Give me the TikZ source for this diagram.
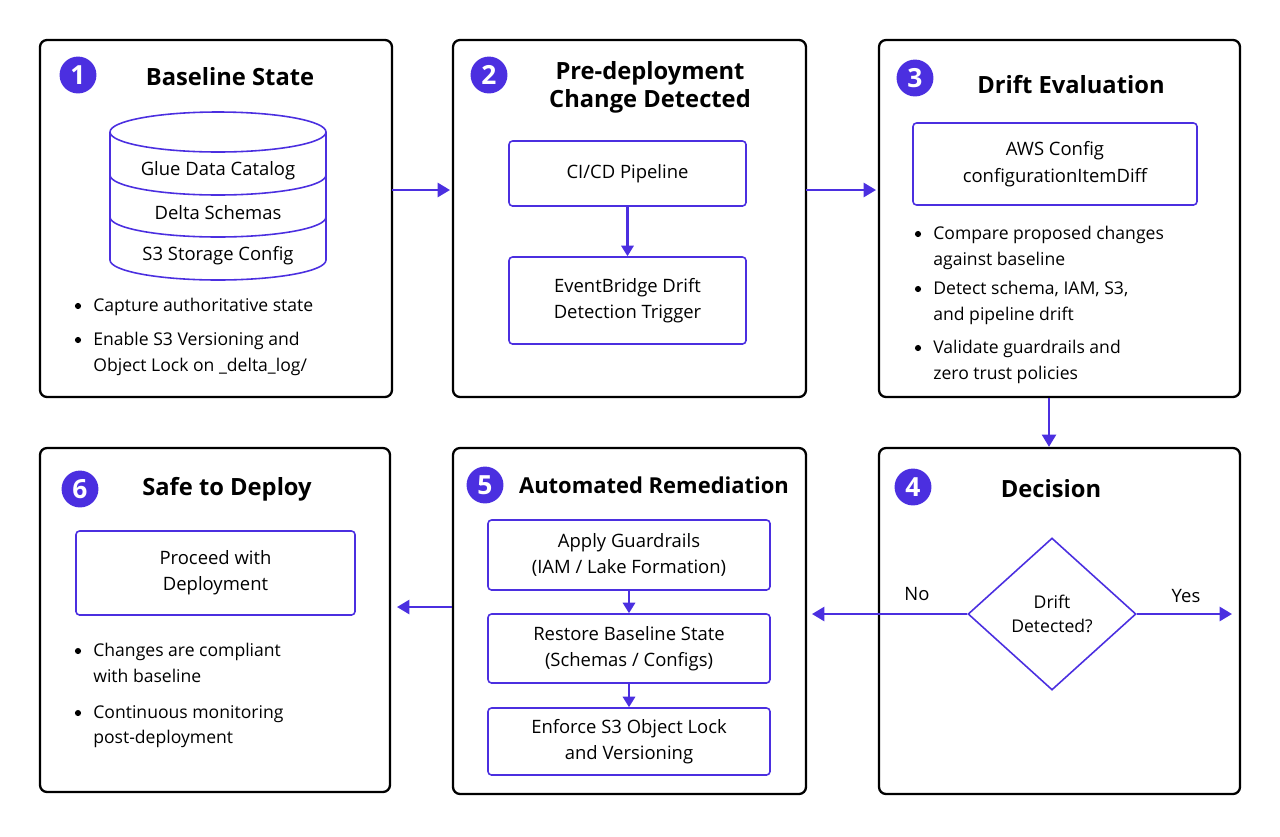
\documentclass[tikz,border=0pt]{standalone}
\usepackage{fontspec}
\setmainfont{Open Sans}
\usetikzlibrary{positioning,shapes.geometric,arrows.meta}
\definecolor{accent}{HTML}{4B2FE0}
\tikzset{
  panel/.style={draw,line width=1.3pt,rounded corners=4pt,inner sep=0pt},
  num/.style={circle,fill=accent,text=white,minimum size=21pt,inner sep=0pt,font=\fontsize{15}{15}\selectfont\bfseries},
  ttl/.style={font=\fontsize{13.5}{16}\selectfont\bfseries,align=center},
  box/.style={draw=accent,line width=0.9pt,rounded corners=2pt,align=center,font=\fontsize{10.5}{15}\selectfont},
  txt/.style={anchor=north west,align=left,font=\fontsize{10}{14.5}\selectfont,inner sep=0pt},
  dot/.style={circle,fill=black,inner sep=0pt,minimum size=3.5pt},
  flow/.style={draw=accent,line width=1.3pt,-{Triangle[length=7pt,width=8pt]}},
  small/.style={draw=accent,line width=1.3pt,-{Triangle[length=6pt,width=7pt]}}
}
\newcommand{\bul}[3]{\node[dot] at (78+#1,#2) {}; \node[txt] at (93+#1,#2-8) {#3};}
\begin{document}
\begin{tikzpicture}[x=0.02cm,y=-0.02cm]
  \useasboundingbox (0,0) rectangle (1280,836);
  % Panels.
  \node[panel,minimum width=352*0.02cm,minimum height=357*0.02cm] (p1) at (216,218.5) {};
  \node[panel,minimum width=353*0.02cm,minimum height=357*0.02cm] (p2) at (629.5,218.5) {};
  \node[panel,minimum width=361*0.02cm,minimum height=357*0.02cm] (p3) at (1059.5,218.5) {};
  \node[panel,minimum width=361*0.02cm,minimum height=346*0.02cm] (p4) at (1059.5,621) {};
  \node[panel,minimum width=353*0.02cm,minimum height=346*0.02cm] (p5) at (629.5,621) {};
  \node[panel,minimum width=350*0.02cm,minimum height=344*0.02cm] (p6) at (215,620) {};
  % Numbers and titles.
  \node[num] (n1) at (78,75) {1};
  \node[num] (n2) at (489,75) {2};
  \node[num] (n3) at (915,78) {3};
  \node[num] (n4) at (913,487) {4};
  \node[num] (n5) at (485,485) {5};
  \node[num] (n6) at (80,489) {6};
  \node[ttl] (t1) at (230,77) {Baseline State};
  \node[ttl] (t2) at (650,87) {Pre-deployment\\Change Detected};
  \node[ttl] (t3) at (1071,85) {Drift Evaluation};
  \node[ttl] (t4) at (1051,489) {Decision};
  \node[ttl,font=\fontsize{12.5}{15}\selectfont\bfseries] (t5) at (654,485) {Automated Remediation};
  \node[ttl] (t6) at (227,489) {Safe to Deploy};
  % Baseline store.
  \draw[accent,line width=0.9pt] (218,132) ellipse (108 and 20);
  \draw[accent,line width=0.9pt] (110,132) -- (110,260) arc[start angle=180,end angle=360,x radius=108,y radius=-20] -- (326,132);
  \draw[accent,line width=0.9pt] (110,175) arc[start angle=180,end angle=360,x radius=108,y radius=-20];
  \draw[accent,line width=0.9pt] (110,217) arc[start angle=180,end angle=360,x radius=108,y radius=-20];
  \node[font=\fontsize{10.5}{12}\selectfont] (c1) at (218,171) {Glue Data Catalog};
  \node[font=\fontsize{10.5}{12}\selectfont] (c2) at (218,213) {Delta Schemas};
  \node[font=\fontsize{10.5}{12}\selectfont] (c3) at (218,256) {S3 Storage Config};
  \bul{0}{306}{Capture authoritative state}
  \bul{0}{340}{Enable S3 Versioning and\\Object Lock on \_delta\_log/}
  % Change detection.
  \node[box,minimum width=237*0.02cm,minimum height=65*0.02cm] (ci) at (627.5,173.5) {CI/CD Pipeline};
  \node[box,minimum width=237*0.02cm,minimum height=87*0.02cm] (eb) at (627.5,300.5) {EventBridge Drift\\Detection Trigger};
  \draw[small] (ci) -- (eb);
  % Evaluation.
  \node[box,minimum width=284*0.02cm,minimum height=82*0.02cm] (cfg) at (1055,164) {AWS Config\\configurationItemDiff};
  \bul{840}{234}{Compare proposed changes\\against baseline}
  \bul{840}{289}{Detect schema, IAM, S3,\\and pipeline drift}
  \bul{840}{348}{Validate guardrails and\\zero trust policies}
  % Decision.
  \node[diamond,draw=accent,line width=0.9pt,minimum width=168*0.02cm,minimum height=152*0.02cm,inner sep=0pt,align=center,font=\fontsize{10}{14}\selectfont] (dd) at (1052,614) {Drift\\Detected?};
  \coordinate (yes) at (1232,614);
  \coordinate (no) at (812,614);
  \draw[flow] (dd.east) -- (yes);
  \draw[flow] (dd.west) -- (no);
  \node[font=\fontsize{10.5}{12}\selectfont] (lno) at (917,594) {No};
  \node[font=\fontsize{10.5}{12}\selectfont] (lyes) at (1186,596) {Yes};
  % Remediation.
  \node[box,minimum width=282*0.02cm,minimum height=70*0.02cm] (r1) at (629,555) {Apply Guardrails\\(IAM / Lake Formation)};
  \node[box,minimum width=282*0.02cm,minimum height=69*0.02cm] (r2) at (629,648.5) {Restore Baseline State\\(Schemas / Configs)};
  \node[box,minimum width=282*0.02cm,minimum height=67*0.02cm] (r3) at (629,741.5) {Enforce S3 Object Lock\\and Versioning};
  \draw[small] (r1) -- (r2);
  \draw[small] (r2) -- (r3);
  % Deploy.
  \node[box,minimum width=279*0.02cm,minimum height=84*0.02cm] (go) at (215.5,573) {Proceed with\\Deployment};
  \bul{0}{651}{Changes are compliant\\with baseline}
  \bul{0}{713}{Continuous monitoring\\post-deployment}
  % Flow between panels.
  \coordinate (a1) at (392,190);
  \coordinate (a2) at (450,190);
  \coordinate (a3) at (806,190);
  \coordinate (a4) at (876,190);
  \coordinate (a5) at (452,607);
  \coordinate (a6) at (397,607);
  \draw[flow] (a1) -- (a2);
  \draw[flow] (a3) -- (a4);
  \draw[flow] (p3.south -| 1049,0) -- (p4.north -| 1049,0);
  \draw[flow] (a5) -- (a6);
\end{tikzpicture}
\end{document}
